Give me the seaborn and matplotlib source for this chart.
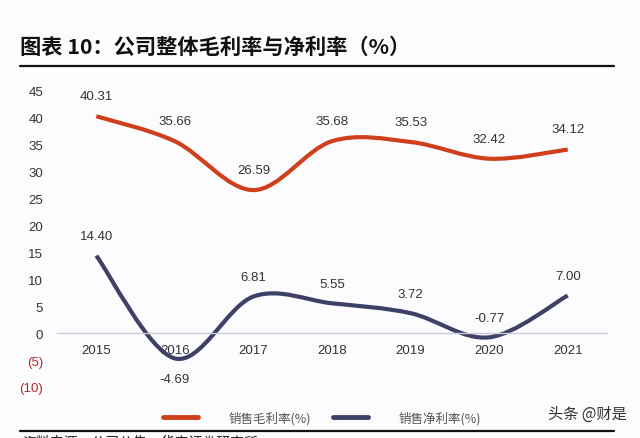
import numpy as np
import matplotlib
matplotlib.use("Agg")
import matplotlib.pyplot as plt
from matplotlib.path import Path
from matplotlib.patches import PathPatch
from matplotlib.lines import Line2D
import seaborn as sns

# Data
years = ["2015", "2016", "2017", "2018", "2019", "2020", "2021"]
gross_margin = [40.31, 35.66, 26.59, 35.68, 35.53, 32.42, 34.12]
net_margin = [14.40, -4.69, 6.81, 5.55, 3.72, -0.77, 7.00]
gross_label = "销售毛利率(%)"
net_label = "销售净利率(%)"
y_ticks = [-10, -5, 0, 5, 10, 15, 20, 25, 30, 35, 40, 45]

GROSS_COLOR = "#CF3F1B"
NET_COLOR = "#3F4066"
BG = "#FCFCFE"

sns.set_style("white")
plt.rcParams["font.family"] = ["Liberation Sans", "Noto Sans CJK SC", "DejaVu Sans"]


def smooth_path(xs, ys):
    # Excel-style smoothed line: cubic Bezier segments through the data points
    pts = np.column_stack([xs, ys]).astype(float)
    verts = [pts[0]]
    codes = [Path.MOVETO]
    n = len(pts)
    for i in range(n - 1):
        p0 = pts[max(i - 1, 0)]
        p1 = pts[i]
        p2 = pts[i + 1]
        p3 = pts[min(i + 2, n - 1)]
        c1 = p1 + (p2 - p0) / 6.0
        c2 = p2 - (p3 - p1) / 6.0
        verts += [c1, c2, p2]
        codes += [Path.CURVE4] * 3
    return Path(verts, codes)


fig = plt.figure(figsize=(6.4, 4.39), dpi=100, facecolor=BG)
ax = fig.add_axes([57 / 640, 51 / 439, 550 / 640, 296 / 439])
ax.set_facecolor(BG)

x = np.arange(len(years))
for vals, color in [(gross_margin, GROSS_COLOR), (net_margin, NET_COLOR)]:
    ax.add_patch(PathPatch(smooth_path(x, vals), facecolor="none",
                           edgecolor=color, lw=3.0, capstyle="butt"))

# data labels
for xi, v in zip(x, gross_margin):
    ax.annotate(f"{v:.2f}", (xi, v), xytext=(0, 14.5), textcoords="offset points",
                ha="center", va="center", fontsize=9.5, color="#333333")
for xi, v in zip(x, net_margin):
    off = -15 if v < -2 else 14
    ax.annotate(f"{v:.2f}", (xi, v), xytext=(0, off), textcoords="offset points",
                ha="center", va="center", fontsize=9.5, color="#333333")

ax.set_xlim(-0.5, len(years) - 0.5)
ax.set_ylim(-10, 45)

for s in ["top", "right", "left"]:
    ax.spines[s].set_visible(False)
ax.spines["bottom"].set_position(("data", 0))
ax.spines["bottom"].set_color("#C9CCD8")
ax.spines["bottom"].set_linewidth(1.0)

ax.set_xticks(x)
ax.set_xticklabels(years, fontsize=9.5, color="#333333")
ax.set_xticks(np.arange(len(years) + 1) - 0.5, minor=True)
ax.tick_params(axis="x", which="major", length=0, pad=8)
ax.tick_params(axis="x", which="minor", direction="in", length=3, color="#C9CCD8")

ax.set_yticks(y_ticks)
ax.set_yticklabels([f"({-t})" if t < 0 else f"{t}" for t in y_ticks], fontsize=9.5)
ax.tick_params(axis="y", length=0, pad=10)
for t, lab in zip(y_ticks, ax.get_yticklabels()):
    lab.set_color("#B0282C" if t < 0 else "#333333")

# title and rules
fig.text(20 / 640, 1 - 47 / 439, "图表 10：公司整体毛利率与净利率（%）",
         fontsize=15.3, fontweight="bold", family=["Noto Sans CJK SC", "DejaVu Sans"],
         ha="left", va="center", color="#111111")
fig.add_artist(Line2D([20 / 640, 614 / 640], [1 - 67 / 439, 1 - 67 / 439],
                      color="#111111", lw=1.6))
fig.add_artist(Line2D([20 / 640, 614 / 640], [1 - 432 / 439, 1 - 432 / 439],
                      color="#111111", lw=1.6))

# legend
handles = [Line2D([], [], color=GROSS_COLOR, lw=3.5),
           Line2D([], [], color=NET_COLOR, lw=3.5)]
fig.legend(handles, [gross_label, net_label], loc="center", ncol=2,
           bbox_to_anchor=(322 / 640, 1 - 419 / 439), frameon=False,
           prop={"family": ["Noto Sans CJK SC", "DejaVu Sans"], "size": 9},
           labelcolor="#555555", handlelength=2.8, handletextpad=2.4,
           columnspacing=1.8)

fig.text(627 / 640, 1 - 414 / 439, "头条 @财是", fontsize=11, ha="right", va="center",
         color="#333333", family=["Noto Sans CJK SC", "DejaVu Sans"])

# source line, cut off by the image edge as in the reference
fig.text(22 / 640, 1 - 435 / 439, "资料来源：公司公告，华安证券研究所", fontsize=10,
         ha="left", va="top", color="#222222",
         family=["Noto Sans CJK SC", "DejaVu Sans"])

fig.savefig("out.png", dpi=100, facecolor=BG)
